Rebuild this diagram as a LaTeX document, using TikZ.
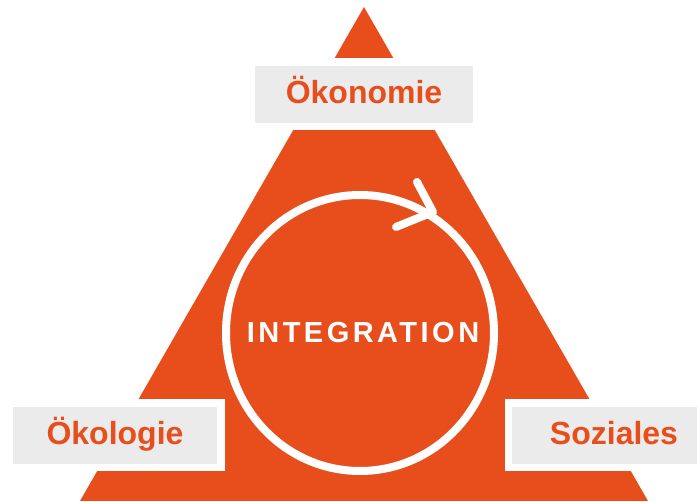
\documentclass[tikz,border=0pt]{standalone}
\usepackage{fontspec}
\setmainfont{Liberation Sans}
\newfontfamily\integfont[LetterSpace=12]{Liberation Sans}
\usetikzlibrary{positioning}
\definecolor{dreieck}{RGB}{232,78,27}
\definecolor{feld}{RGB}{235,235,235}

\begin{document}
\begin{tikzpicture}[x=1pt,y=-1pt]
\tikzstyle{saeule}=[fill=feld, draw=white, line width=7.5pt, inner sep=0pt,
  minimum height=64.5pt, text height=18pt, text depth=0pt, text=dreieck,
  font=\bfseries\fontsize{32}{36}\selectfont]
\tikzstyle{ring}=[draw=white, line width=8pt, line cap=round, line join=round]
\useasboundingbox (0,0) rectangle (697,502);
\clip (0,0) rectangle (697,502);
% triangle
\fill [dreieck] (364,7) -- (648,501) -- (80,501) -- cycle;
% circle with arrow
\draw [ring] (360,333) ellipse [x radius=134pt, y radius=138pt];
\coordinate (spitze) at (433,212);
\coordinate (fluegelA) at (417,182);
\coordinate (fluegelB) at (396,227);
\draw [ring] (fluegelA) -- (spitze) -- (fluegelB);
\node [text=white, font=\integfont\bfseries\fontsize{29}{32}\selectfont] (integration) at (363,333) {INTEGRATION};
% labels
\node [saeule, minimum width=225.5pt] (oekonomie) at (364,94.5) {Ökonomie};
\node [saeule, minimum width=211.5pt] (oekologie) at (115,435.5) {Ökologie};
\node [saeule, minimum width=211.5pt] (soziales) at (614,435.5) {Soziales};
\end{tikzpicture}
\end{document}
